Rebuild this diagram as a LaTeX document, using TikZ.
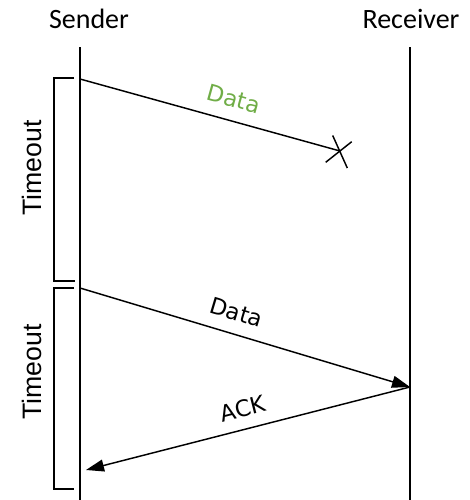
\documentclass[tikz,border=0pt]{standalone}
\usepackage{fontspec}
\setmainfont{Carlito}
\newfontfamily\labelfont{Liberation Sans}
\newfontfamily\msgfont{DejaVu Sans}
\usetikzlibrary{arrows.meta,calc}
\definecolor{lostgreen}{RGB}{112,173,71}
\begin{document}
\begin{tikzpicture}[x=0.75pt,y=-0.75pt,
  lifeline/.style={line width=1.1pt},
  msg/.style={line width=1.1pt},
  msgarrow/.style={msg,-{Triangle[length=13.5pt,width=9pt]}},
  bracket/.style={line width=1.1pt},
  party/.style={font=\fontsize{21}{25}\selectfont, anchor=base, inner sep=0pt},
  tlabel/.style={font=\labelfont\fontsize{20}{24}\selectfont, rotate=90, inner sep=0pt},
  mlabel/.style={font=\msgfont\fontsize{17}{20}\selectfont, sloped, inner sep=0pt}]
\useasboundingbox (0,0) rectangle (470,500);

% participants
\node[party] (sender) at (89,28) {Sender};
\node[party] (receiver) at (411,28) {Receiver};

% lifelines
\coordinate (stop) at (80,47);
\coordinate (sbot) at (80,500);
\coordinate (rtop) at (410,47);
\coordinate (rbot) at (410,500);
\draw[lifeline] (stop) -- (sbot);
\draw[lifeline] (rtop) -- (rbot);

% message end points
\coordinate (s1) at (80,79);
\coordinate (lost) at (340,151);
\coordinate (s2) at (80,288);
\coordinate (r2) at (410,387);
\coordinate (s3) at (86,470);

% first transmission, lost on the way
\draw[msg] (s1) -- node[mlabel, text=lostgreen, pos=0.57, above=9.5pt] {Data} (lost);
\draw[msg] ($(lost)+(-7.3,-15.5)$) -- ($(lost)+(7.3,17)$);
\draw[msg] ($(lost)+(-14.3,11.3)$) -- ($(lost)+(11.7,-9.3)$);

% retransmission and acknowledgement
\draw[msgarrow] (s2) -- node[mlabel, pos=0.455, above=9.5pt] {Data} (r2);
\draw[msgarrow] (r2) -- node[mlabel, pos=0.5, above=8.5pt] {ACK} (s3);

% timeout brackets
\draw[bracket] (74,78) -- (54,78) -- (54,281) -- (75,281);
\draw[bracket] (74,288) -- (54,288) -- (54,489) -- (74,489);
\node[tlabel] (to1) at (32,168) {Timeout};
\node[tlabel] (to2) at (32,372) {Timeout};
\end{tikzpicture}
\end{document}
